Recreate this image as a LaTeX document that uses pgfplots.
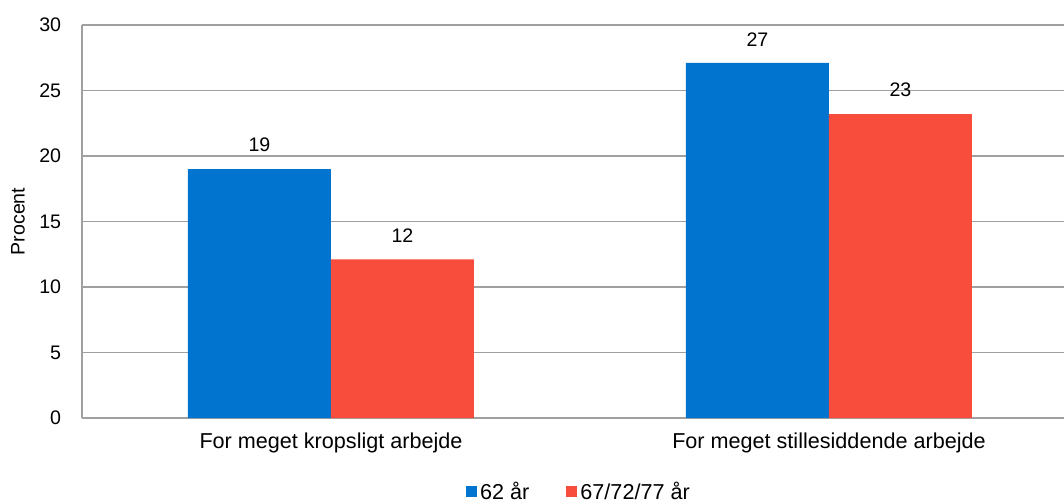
\documentclass[border=0pt]{standalone}
\usepackage{pgfplots}
\pgfplotsset{compat=1.18}
\usepackage{fontspec}
\setmainfont{Liberation Sans}

\definecolor{blueA}{HTML}{0074CF}
\definecolor{redB}{HTML}{F84C3C}
\definecolor{gridgray}{HTML}{A0A0A0}

\begin{document}
\fontsize{9.8}{12}\selectfont
\begin{tikzpicture}
  % page = 1064 x 503 px at 0.5pt per px
  \path[use as bounding box] (-41pt,-42.5pt) rectangle (491pt,209pt);
  \begin{axis}[
    at={(0,0)}, anchor=south west,
    scale only axis, width=491pt, height=196.5pt,
    /pgf/number format/assume math mode=true,
    ybar=0pt, bar width=71.5pt,
    xmin=-0.5, xmax=1.472, ymin=0, ymax=30,
    xtick=data,
    xticklabels={For meget kropsligt arbejde, For meget stillesiddende arbejde},
    ytick={0,5,...,30},
    ymajorgrids,
    grid style={gridgray, line width=0.75pt},
    axis x line*=bottom, axis y line*=left,
    axis line style={-, gridgray, line width=0.75pt},
    major tick length=0pt,
    tick style={draw=none},
    yticklabel style={xshift=-7pt},
    xticklabel style={yshift=-4pt, font=\fontsize{10.8}{13}\selectfont},
    ylabel={Procent},
    ylabel style={at={(axis description cs:0,0.5)}, anchor=center, yshift=32pt},
    nodes near coords={\pgfmathprintnumber[fixed,precision=0]{\pgfplotspointmeta}},
    every node near coord/.append style={yshift=5pt, black},
    legend style={at={(axis description cs:0.5066,-0.188)}, anchor=center,
      draw=none, fill=none, inner sep=0pt, font=\fontsize{10.8}{13}\selectfont,
      /tikz/every even column/.append style={column sep=17pt}},
    legend columns=2,
    legend cell align=left,
    legend image code/.code={\fill[#1] (0pt,-2.75pt) rectangle (5.5pt,2.75pt);},
    legend style={nodes={inner sep=1.5pt}},
  ]
    % 62 år
    \addplot[fill=blueA, draw=none] coordinates {(0,19.0) (1,27.1)};
    \addlegendentry{62 år}
    % 67/72/77 år
    \addplot[fill=redB, draw=none] coordinates {(0,12.1) (1,23.2)};
    \addlegendentry{67/72/77 år}
  \end{axis}
\end{tikzpicture}
\end{document}
